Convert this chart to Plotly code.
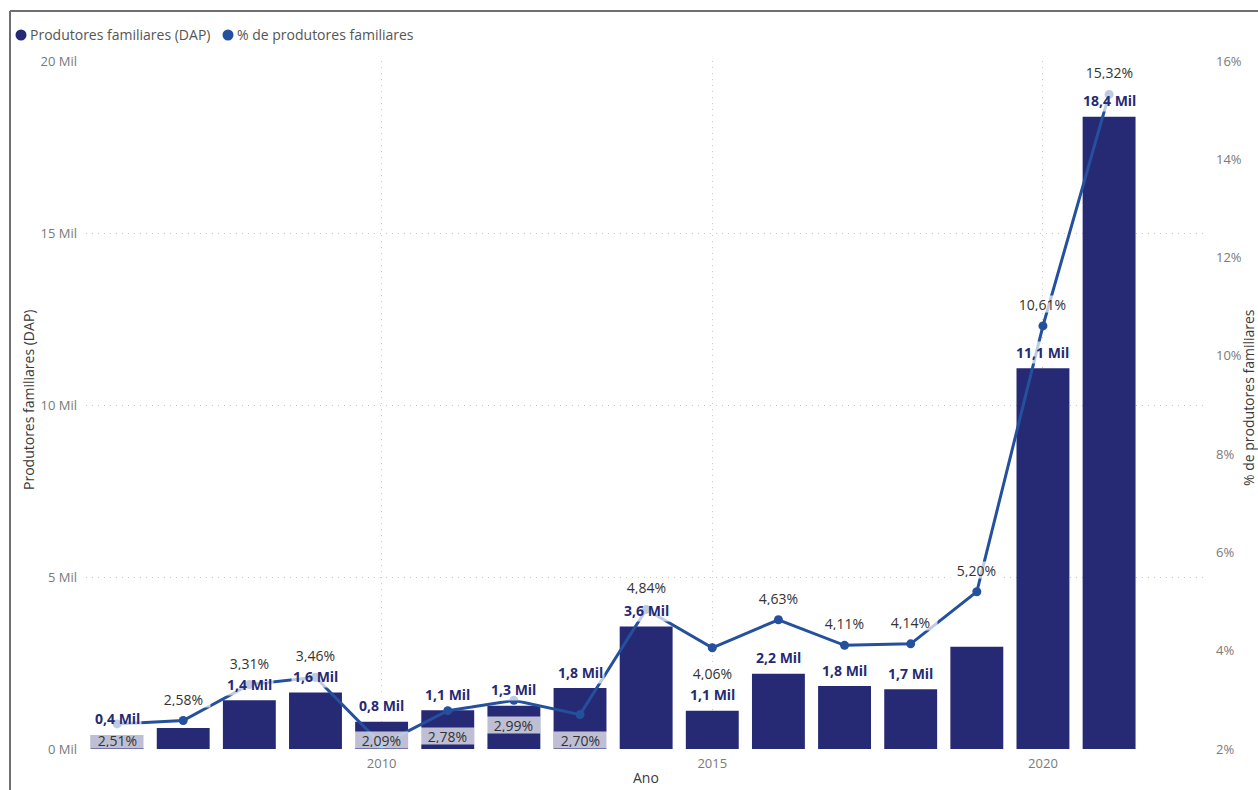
import plotly.graph_objects as go

# Dados: produtores familiares com DAP (em milhares) e percentual sobre o total
anos = list(range(2006, 2022))
produtores_mil = [0.41, 0.61, 1.42, 1.64, 0.79, 1.13, 1.26, 1.77,
                  3.56, 1.11, 2.19, 1.83, 1.74, 2.97, 11.07, 18.38]
pct_familiares = [2.51, 2.58, 3.31, 3.46, 2.09, 2.78, 2.99, 2.70,
                  4.84, 4.06, 4.63, 4.11, 4.14, 5.20, 10.61, 15.32]

ticks_produtores = [0, 5, 10, 15, 20]
ticks_pct = [2, 4, 6, 8, 10, 12, 14, 16]
ticks_anos = [2010, 2015, 2020]

# Posição dos rótulos percentuais em relação ao ponto
lado_rotulo_pct = ["abaixo", "acima", "acima", "acima", "abaixo", "abaixo", "abaixo", "abaixo",
                   "acima", "abaixo", "acima", "acima", "acima", "acima", "acima", "acima"]
# Rótulos de barra ocultos (sobrepostos)
anos_sem_rotulo_barra = [2007, 2019]

COR_BARRA = "#262A74"
COR_LINHA = "#24509E"
COR_TICK = "#7a7a7a"
COR_TITULO = "#3a3a3a"
FONTE = "Open Sans"

W, H = 1258, 790
ML, MR, MT, MB = 86, 55, 61, 41
PW, PH = W - ML - MR, H - MT - MB
X_RANGE = [2005.53, 2022.42]
Y_RANGE = [0, 20]
Y2_RANGE = [2, 16]
px_por_pct = PH / (Y2_RANGE[1] - Y2_RANGE[0])
largura_barra = 0.8
largura_barra_px = largura_barra * PW / (X_RANGE[1] - X_RANGE[0])


def px_x(px):
    return (px - ML) / PW


def px_y(py):
    return (H - MB - py) / PH


def fmt_num(v, casas):
    return f"{v:.{casas}f}".replace(".", ",")


fig = go.Figure()

fig.add_trace(go.Bar(
    x=anos, y=produtores_mil, width=largura_barra,
    marker=dict(color=COR_BARRA, line=dict(width=0)),
    name="Produtores familiares (DAP)", yaxis="y", showlegend=False,
))

fig.add_trace(go.Scatter(
    x=anos, y=pct_familiares, mode="lines+markers",
    line=dict(color=COR_LINHA, width=3),
    marker=dict(color=COR_LINHA, size=9),
    name="% de produtores familiares", yaxis="y2", showlegend=False,
))

annotations = []
fundo_rotulo = "rgba(255,255,255,0.7)"

# Rótulos das barras
for ano, v in zip(anos, produtores_mil):
    if ano in anos_sem_rotulo_barra:
        continue
    annotations.append(dict(
        x=ano, y=v, xref="x", yref="y", text=f"<b>{fmt_num(v, 1)} Mil</b>",
        showarrow=False, xanchor="center", yanchor="middle", yshift=16,
        font=dict(family=FONTE, size=14, color=COR_BARRA),
        bgcolor=fundo_rotulo, borderpad=1,
    ))

# Rótulos percentuais
for ano, p, lado in zip(anos, pct_familiares, lado_rotulo_pct):
    base = dict(x=ano, xref="x", yref="y2", text=f"{fmt_num(p, 2)}%", showarrow=False,
                xanchor="center",
                font=dict(family=FONTE, size=14, color="#333333"),
                bgcolor=fundo_rotulo, borderpad=1, width=largura_barra_px - 2, height=14)
    if lado == "acima":
        base.update(y=p, yanchor="middle", yshift=22)
    else:
        centro = (p - Y2_RANGE[0]) * px_por_pct - 25
        if centro - 8 < 0:
            base.update(y=Y2_RANGE[0], yanchor="bottom", yshift=0)
        else:
            base.update(y=p, yanchor="middle", yshift=-25)
    annotations.append(base)

# Títulos dos eixos
annotations.append(dict(x=px_x(28), y=px_y(400), xref="paper", yref="paper",
                        xanchor="center", yanchor="middle",
                        text="Produtores familiares (DAP)", textangle=-90, showarrow=False,
                        font=dict(family=FONTE, size=14, color=COR_TITULO)))
annotations.append(dict(x=px_x(1248), y=px_y(398), xref="paper", yref="paper",
                        xanchor="center", yanchor="middle",
                        text="% de produtores familiares", textangle=-90, showarrow=False,
                        font=dict(family=FONTE, size=14, color=COR_TITULO)))
annotations.append(dict(x=px_x(646), y=px_y(777), xref="paper", yref="paper",
                        xanchor="center", yanchor="middle",
                        text="Ano", showarrow=False,
                        font=dict(family=FONTE, size=14, color=COR_TITULO)))

# Legenda
itens_legenda = [(21, "Produtores familiares (DAP)", COR_BARRA),
                 (228, "% de produtores familiares", COR_LINHA)]
shapes = []
for cx, texto, cor in itens_legenda:
    r = 5.5
    shapes.append(dict(type="circle", xref="paper", yref="paper",
                       x0=px_x(cx - r), x1=px_x(cx + r), y0=px_y(35 + r), y1=px_y(35 - r),
                       fillcolor=cor, line=dict(width=0)))
    annotations.append(dict(x=px_x(cx + 7), y=px_y(35), xref="paper", yref="paper",
                            text=texto, showarrow=False, xanchor="left", yanchor="middle",
                            font=dict(family=FONTE, size=14, color="#555555")))

# Moldura do visual
shapes.append(dict(type="line", xref="paper", yref="paper",
                   x0=px_x(10), x1=px_x(1262), y0=px_y(11), y1=px_y(11),
                   line=dict(color="#6f6f6f", width=2)))
shapes.append(dict(type="line", xref="paper", yref="paper",
                   x0=px_x(10), x1=px_x(10), y0=px_y(11), y1=px_y(795),
                   line=dict(color="#6f6f6f", width=2)))

fig.update_layout(
    width=W, height=H,
    margin=dict(l=ML, r=MR, t=MT, b=MB, autoexpand=False),
    paper_bgcolor="white", plot_bgcolor="white",
    font=dict(family=FONTE, color=COR_TICK),
    bargap=0.2,
    showlegend=False,
    xaxis=dict(
        range=X_RANGE, tickvals=ticks_anos, ticktext=[str(a) for a in ticks_anos],
        showgrid=True, gridcolor="#c8c8c8", griddash="1px,5px", gridwidth=1,
        zeroline=False, showline=False, ticks="", ticklabelstandoff=5,
        tickfont=dict(family=FONTE, size=13, color=COR_TICK),
    ),
    yaxis=dict(
        range=Y_RANGE, tickvals=ticks_produtores,
        ticktext=[f"{t} Mil" for t in ticks_produtores],
        showgrid=True, gridcolor="#c8c8c8", griddash="1px,5px", gridwidth=1,
        zeroline=False, showline=False, ticks="", ticklabelstandoff=8,
        tickfont=dict(family=FONTE, size=13, color=COR_TICK),
    ),
    yaxis2=dict(
        range=Y2_RANGE, overlaying="y", side="right", tickvals=ticks_pct,
        ticktext=[f"{t}%" for t in ticks_pct],
        showgrid=False, zeroline=False, showline=False, ticks="", ticklabelstandoff=12,
        tickfont=dict(family=FONTE, size=13, color=COR_TICK),
    ),
    annotations=annotations,
    shapes=shapes,
)

fig.write_html("out.html")
